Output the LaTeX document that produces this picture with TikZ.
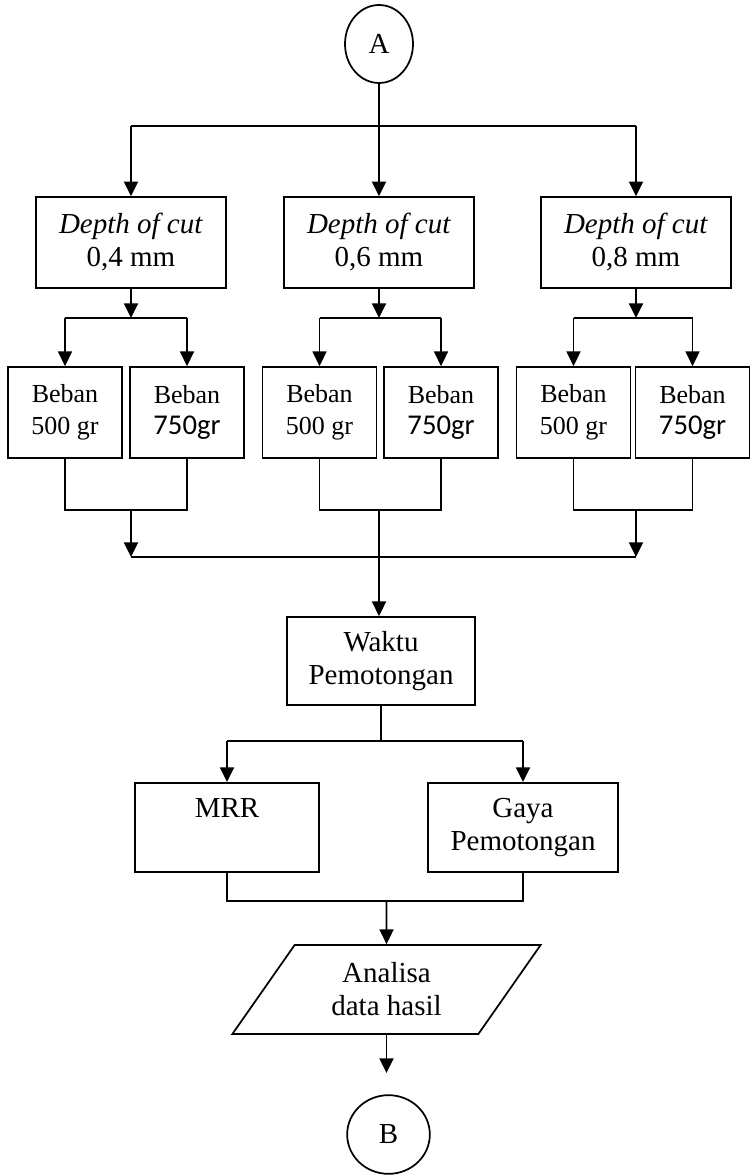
\documentclass[tikz,border=0pt]{standalone}
\usepackage{fontspec}
\setmainfont{Liberation Serif}
\newfontfamily\calibri{Carlito}
\usetikzlibrary{arrows.meta,shapes.geometric}

\tikzset{
  conn/.style={line width=1.3pt},
  arr/.style={conn,-{Triangle[width=10.5pt,length=11pt]}},
  box/.style={draw,line width=1.3pt,align=center,inner sep=0pt,
    font=\fontsize{21.75}{24.75}\selectfont},
  depthbox/.style={box,minimum width=142pt,minimum height=68pt},
  bebanbox/.style={box,minimum width=85.5pt,minimum height=68.25pt,
    font=\fontsize{19.5}{23.8}\selectfont},
  terminal/.style={ellipse,draw,line width=1.3pt,inner sep=0pt,
    font=\fontsize{21.75}{24.75}\selectfont},
  io/.style={trapezium,trapezium left angle=55,trapezium right angle=125,
    draw,line width=1.3pt,align=center,inner sep=0pt,
    minimum width=181.5pt,minimum height=66.75pt,
    font=\fontsize{21.75}{24.75}\selectfont}
}
\newcommand{\gram}{{\calibri\fontsize{21.5}{23.8}\selectfont 750gr}}

\begin{document}
\begin{tikzpicture}[x=0.75pt,y=-0.75pt]
  \useasboundingbox (0,0) rectangle (753,1176);
  % start
  \node[terminal,minimum width=51pt,minimum height=58.5pt] (A) at (379,44) {A};
  % depth of cut
  \node[depthbox] (d1) at (131,242.5) {\textit{Depth of cut}\\0,4 mm};
  \node[depthbox] (d2) at (379,242.5) {\textit{Depth of cut}\\0,6 mm};
  \node[depthbox] (d3) at (636,242.5) {\textit{Depth of cut}\\0,8 mm};
  % beban
  \node[bebanbox] (b1a) at (65,412.5) {Beban\\500 gr};
  \node[bebanbox] (b1b) at (187,412.5) {Beban\\\gram};
  \node[bebanbox] (b2a) at (319.5,412.5) {Beban\\500 gr};
  \node[bebanbox] (b2b) at (441,412.5) {Beban\\\gram};
  \node[bebanbox] (b3a) at (573.5,412.5) {Beban\\500 gr};
  \node[bebanbox] (b3b) at (692.5,412.5) {Beban\\\gram};
  % results
  \node[box,minimum width=141pt,minimum height=66pt] (w) at (381,661) {Waktu\\Pemotongan};
  \node[box,minimum width=138pt,minimum height=67pt] (mrr) at (227,827.5) {MRR\\\phantom{Gaya}};
  \node[box,minimum width=142.5pt,minimum height=67pt] (gaya) at (523,827.5) {Gaya\\Pemotongan};
  \node[io] (an) at (386.5,989.5) {Analisa\\data hasil};
  \node[terminal,minimum width=62pt,minimum height=59pt] (B) at (388.5,1134.5) {B};

  % A to depth of cut
  \draw[arr] (A) -- (d2);
  \draw[conn] (d1 |- 0,126) -- (d3 |- 0,126);
  \draw[arr] (d1 |- 0,126) -- (d1);
  \draw[arr] (d3 |- 0,126) -- (d3);
  % depth of cut to beban
  \foreach \g in {1,2,3} {
    \draw[arr] (d\g) -- (d\g |- 0,318);
    \draw[conn] (b\g a |- 0,318) -- (b\g b |- 0,318);
    \draw[arr] (b\g a |- 0,318) -- (b\g a);
    \draw[arr] (b\g b |- 0,318) -- (b\g b);
    \draw[conn] (b\g a) -- (b\g a |- 0,510) -- (b\g b |- 0,510) -- (b\g b);
  }
  % beban to waktu
  \draw[arr] (d1 |- 0,510) -- (d1 |- 0,557);
  \draw[arr] (d3 |- 0,510) -- (d3 |- 0,557);
  \draw[conn] (d1 |- 0,557) -- (d3 |- 0,557);
  \draw[arr] (d2 |- 0,510) -- (d2 |- w.north);
  % waktu to mrr and gaya
  \draw[conn] (w) -- (w |- 0,741);
  \draw[conn] (mrr |- 0,741) -- (gaya |- 0,741);
  \draw[arr] (mrr |- 0,741) -- (mrr);
  \draw[arr] (gaya |- 0,741) -- (gaya);
  % to analisa and end
  \draw[conn] (mrr) -- (mrr |- 0,901) -- (gaya |- 0,901) -- (gaya);
  \draw[arr] (an |- 0,901) -- (an);
  \draw[arr] (an.south) -- (an.south |- 0,1073);
\end{tikzpicture}
\end{document}
